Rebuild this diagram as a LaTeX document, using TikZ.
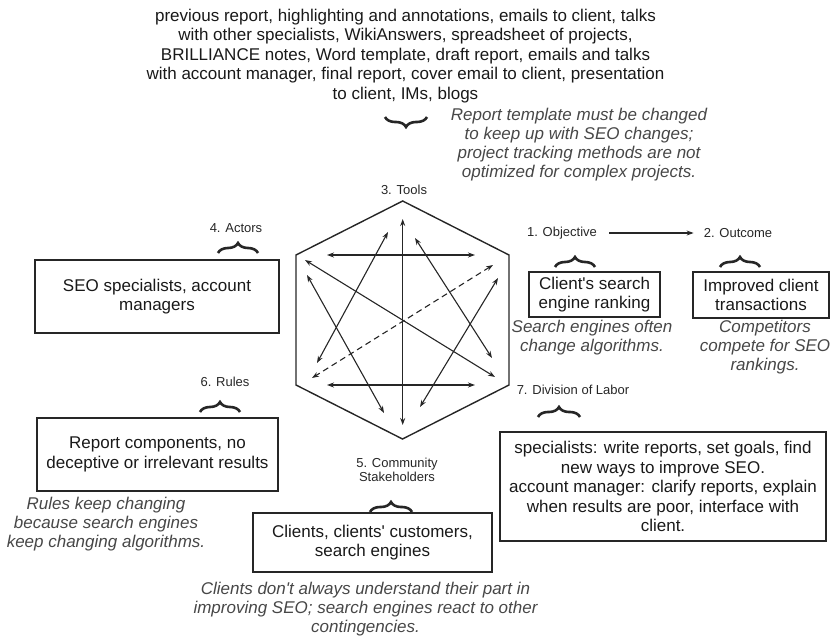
\documentclass[tikz,border=0pt]{standalone}
\usepackage{fontspec}
% straight apostrophes: no TeX quote mapping
\setmainfont{Liberation Sans}[Ligatures=TeXOff]
\usetikzlibrary{arrows.meta,decorations.pathreplacing}
\begin{document}
\begin{tikzpicture}[x=1pt,y=-1pt,
  box/.style={draw=black!85, line width=1.2pt, align=center, inner sep=0pt,
    text=black!90, font=\fontsize{17}{19.5}\selectfont},
  note/.style={align=center, inner sep=0pt, text=black!72,
    font=\fontsize{17}{19}\selectfont\itshape},
  plain/.style={align=center, inner sep=0pt, text=black!90,
    font=\fontsize{17}{19.5}\selectfont},
  lab/.style={align=center, inner sep=0pt, text=black!85,
    font=\fontsize{13}{13.5}\selectfont},
  brc/.style={decorate, decoration={brace, amplitude=10pt, aspect=0.5},
    line width=2.6pt, black!85},
  dbl/.style={{Stealth[length=7pt,width=5pt]}-{Stealth[length=7pt,width=5pt]},
    line width=1.1pt, black!85},
  hexline/.style={line width=1.4pt, black!85, line join=miter}]
\useasboundingbox (0,0) rectangle (833,637);

% ---------- tools text and its note ----------
\node[plain] (toolstext) at (405.5,56) {previous report, highlighting and annotations, emails to client, talks\\
with other specialists, WikiAnswers, spreadsheet of projects,\\
BRILLIANCE notes, Word template, draft report, emails and talks\\
with account manager, final report, cover email to client, presentation\\
to client, IMs, blogs};
\draw[brc] (427,117) -- (385,117);
\node[note] (toolsnote) at (579,145) {Report template must be changed\\
to keep up with SEO changes;\\
project tracking methods are not\\
optimized for complex projects.};

% ---------- hexagon ----------
\coordinate (ht) at (402.7,201);
\coordinate (hur) at (509,255);
\coordinate (hlr) at (509,385);
\coordinate (hb) at (402.5,439);
\coordinate (hll) at (296,385);
\coordinate (hul) at (296,255);
\draw[hexline] (ht) -- (hur) -- (hlr) -- (hb) -- (hll) -- (hul) -- cycle;
\node[lab] (toolslab) at (404,190) {3. Tools};

% arrow ends inside the hexagon
\coordinate (vt) at (402.7,219);
\coordinate (vb) at (402.7,425);
\coordinate (htl) at (327,255);
\coordinate (htr) at (475,255);
\coordinate (hbl) at (327,385);
\coordinate (hbr) at (475,385);
\coordinate (la) at (305,260);
\coordinate (lb) at (495,377);
\coordinate (da) at (493,265);
\coordinate (db) at (312,378);
\coordinate (aa) at (388,232);
\coordinate (ab) at (317,363);
\coordinate (ba) at (415,238);
\coordinate (bb) at (492,358);
\coordinate (ca) at (307,275);
\coordinate (cb) at (384,413);
\coordinate (ea) at (498,278);
\coordinate (eb) at (420,407);

\draw[dbl] (vt) -- (vb);
\draw[dbl] (htl) -- (htr);
\draw[dbl] (hbl) -- (hbr);
\draw[dbl] (la) -- (lb);
\draw[dbl, dash pattern=on 6pt off 4pt] (da) -- (db);
\draw[dbl] (aa) -- (ab);
\draw[dbl] (ba) -- (bb);
\draw[dbl] (ca) -- (cb);
\draw[dbl] (ea) -- (eb);

% ---------- objective and outcome ----------
\node[lab] (objlab) at (562,233) {1. Objective};
\node[lab] (outlab) at (738,233) {2. Outcome};
\draw[-{Stealth[length=7pt,width=5pt]}, line width=1.1pt, black!85]
  ([xshift=12pt]objlab.east) -- ([xshift=-10pt]outlab.west);
\draw[brc] (555,267) -- (595,267);
\draw[brc] (720,267) -- (760,267);
\node[box, minimum width=131pt, minimum height=45pt] (obj) at (594.5,294.5)
  {Client's search\\engine ranking};
\node[box, minimum width=136pt, minimum height=46pt] (out) at (761,295)
  {Improved client\\transactions};
\node[note] (objnote) at (592,338) {Search engines often\\change algorithms.};
\node[note] (outnote) at (765,347) {Competitors\\compete for SEO\\rankings.};

% ---------- actors ----------
\node[lab] (actlab) at (236,228) {4. Actors};
\draw[brc] (218,253) -- (258,253);
\node[box, minimum width=244pt, minimum height=73pt] (act) at (157,296.5)
  {SEO specialists, account\\managers};

% ---------- rules ----------
\node[lab] (rullab) at (225,382) {6. Rules};
\draw[brc] (200,412) -- (240,412);
\node[box, minimum width=241pt, minimum height=73pt] (rul) at (157.5,454.5)
  {Report components, no\\deceptive or irrelevant results};
\node[note] (rulnote) at (106,524) {Rules keep changing\\because search engines\\keep changing algorithms.};

% ---------- community ----------
\node[lab] (comlab) at (397,470) {5. Community\\Stakeholders};
\draw[brc] (370,512) -- (412,512);
\node[box, minimum width=239pt, minimum height=59pt] (com) at (372.5,542.5)
  {Clients, clients' customers,\\search engines};
\node[note] (comnote) at (365.5,609) {Clients don't always understand their part in\\
improving SEO; search engines react to other\\contingencies.};

% ---------- division of labor ----------
\node[lab] (divlab) at (573,390) {7. Division of Labor};
\draw[brc] (538,417) -- (580,417);
\node[box, minimum width=326pt, minimum height=109pt] (div) at (663,486.5)
  {specialists: write reports, set goals, find\\
new ways to improve SEO.\\
account manager: clarify reports, explain\\
when results are poor, interface with\\
client.};
\end{tikzpicture}
\end{document}
